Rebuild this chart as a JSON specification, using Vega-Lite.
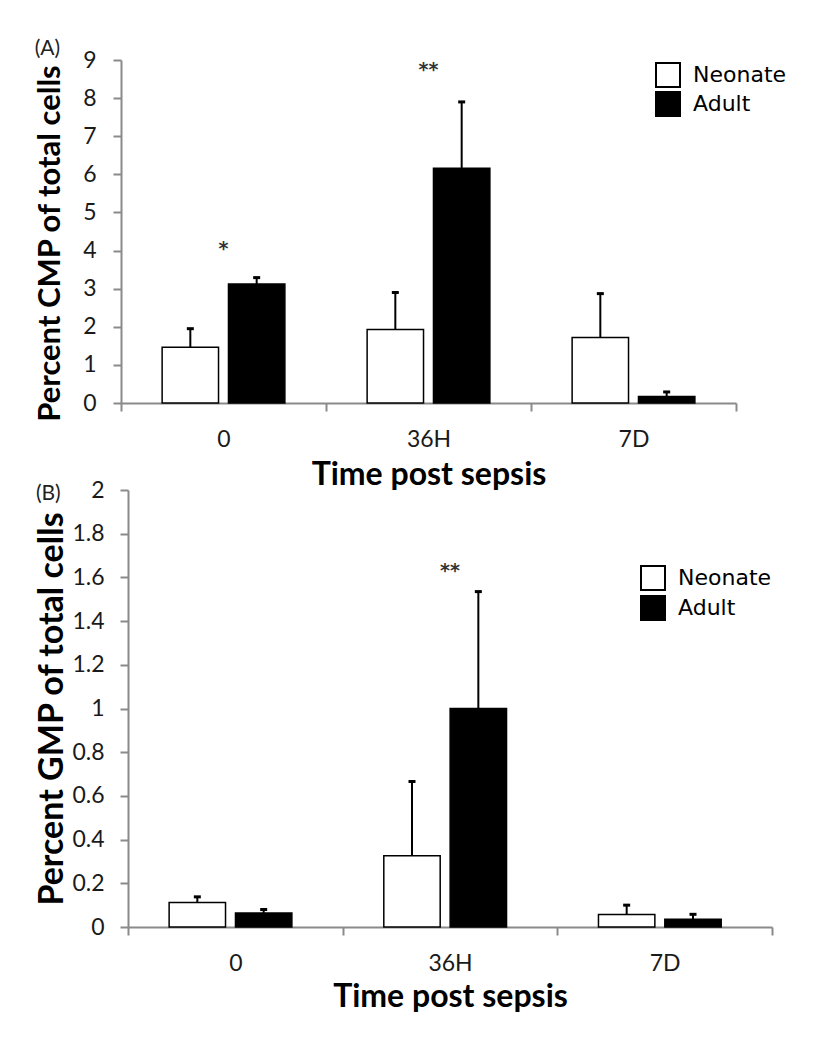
{
  "$schema": "https://vega.github.io/schema/vega-lite/v6.json",
  "background": "white",
  "padding": {"left": 34, "top": 38, "right": 10, "bottom": 10},
  "spacing": -11,
  "columns": 1,
  "datasets": {
    "cmp": [
      {"time": "0", "group": "Neonate", "value": 1.46, "upper": 1.95},
      {"time": "0", "group": "Adult", "value": 3.12, "upper": 3.29},
      {"time": "36H", "group": "Neonate", "value": 1.93, "upper": 2.9},
      {"time": "36H", "group": "Adult", "value": 6.16, "upper": 7.9},
      {"time": "7D", "group": "Neonate", "value": 1.72, "upper": 2.87},
      {"time": "7D", "group": "Adult", "value": 0.17, "upper": 0.29}
    ],
    "gmp": [
      {"time": "0", "group": "Neonate", "value": 0.112, "upper": 0.138},
      {"time": "0", "group": "Adult", "value": 0.064, "upper": 0.08},
      {"time": "36H", "group": "Neonate", "value": 0.326, "upper": 0.666},
      {"time": "36H", "group": "Adult", "value": 1.0, "upper": 1.535},
      {"time": "7D", "group": "Neonate", "value": 0.057, "upper": 0.1},
      {"time": "7D", "group": "Adult", "value": 0.035, "upper": 0.058}
    ],
    "starsA": [
      {"time": "0", "y": 4.1, "label": "*"},
      {"time": "36H", "y": 8.8, "label": "**"}
    ],
    "starsB": [
      {"time": "36H", "y": 1.64, "label": "**"}
    ]
  },
  "config": {
    "view": {"stroke": null},
    "axis": {
      "domainColor": "#8a8a8a", "domainWidth": 2,
      "tickColor": "#8a8a8a", "tickWidth": 2, "tickSize": 8,
      "labelFont": "Lato", "labelFontSize": 23, "labelColor": "#1a1a1a", "labelOverlap": false,
      "titleFont": "Lato", "titleFontWeight": "bold", "titleFontSize": 32, "titleColor": "black",
      "grid": false
    },
    "title": {"font": "Lato", "fontSize": 21, "fontWeight": "normal", "color": "#222", "anchor": "start", "frame": "bounds"}
  },
  "resolve": {"scale": {"fill": "independent"}, "legend": {"fill": "independent"}},
  "concat": [
    {
      "width": 615, "height": 343,
      "title": {"text": "(A)", "offset": 0, "dy": 10},
      "data": {"name": "cmp"},
      "layer": [
        {
          "mark": {"type": "bar", "stroke": "black", "strokeWidth": 1.5},
          "encoding": {
            "x": {"field": "time", "type": "nominal", "sort": ["0", "36H", "7D"],
                  "scale": {"paddingInner": 0, "paddingOuter": 0, "range": [-7, 608]},
                  "axis": {"title": "Time post sepsis", "labelAngle": 0, "tickBand": "extent", "labelPadding": 17, "titlePadding": 8}},
            "xOffset": {"field": "group", "type": "nominal", "sort": ["Neonate", "Adult"],
                        "scale": {"paddingInner": 0.15, "paddingOuter": 0.62}},
            "y": {"field": "value", "type": "quantitative", "scale": {"domain": [0, 9]},
                  "axis": {"title": "Percent CMP of total cells", "values": [0, 1, 2, 3, 4, 5, 6, 7, 8, 9], "labelOverlap": false, "offset": 7, "labelPadding": 17, "titlePadding": 16, "titleFontSize": 31, "titleY": 183}},
            "fill": {"field": "group", "type": "nominal", "sort": ["Neonate", "Adult"],
                     "scale": {"domain": ["Neonate", "Adult"], "range": ["white", "black"]},
                     "legend": {"title": null, "orient": "none", "legendX": 527, "legendY": 2,
                                "symbolType": "square", "symbolSize": 576, "symbolStrokeColor": "black", "symbolStrokeWidth": 2,
                                "labelFont": "DejaVu Sans", "labelFontSize": 22, "labelColor": "black", "labelOffset": 12, "rowPadding": -7}}
          }
        },
        {
          "mark": {"type": "rule", "color": "black", "strokeWidth": 2},
          "encoding": {
            "x": {"field": "time", "type": "nominal", "sort": ["0", "36H", "7D"]},
            "xOffset": {"field": "group", "type": "nominal", "sort": ["Neonate", "Adult"]},
            "y": {"field": "value", "type": "quantitative",
                  "axis": {"title": "Percent CMP of total cells", "values": [0, 1, 2, 3, 4, 5, 6, 7, 8, 9], "labelOverlap": false, "offset": 7, "labelPadding": 17, "titlePadding": 16, "titleFontSize": 31, "titleY": 183}},
            "y2": {"field": "upper"}
          }
        },
        {
          "mark": {"type": "tick", "color": "black", "thickness": 3, "size": 7, "opacity": 1},
          "encoding": {
            "x": {"field": "time", "type": "nominal", "sort": ["0", "36H", "7D"]},
            "xOffset": {"field": "group", "type": "nominal", "sort": ["Neonate", "Adult"]},
            "y": {"field": "upper", "type": "quantitative",
                  "axis": {"title": "Percent CMP of total cells", "values": [0, 1, 2, 3, 4, 5, 6, 7, 8, 9], "labelOverlap": false, "offset": 7, "labelPadding": 17, "titlePadding": 16, "titleFontSize": 31, "titleY": 183}}
          }
        },
        {
          "data": {"name": "starsA"},
          "mark": {"type": "text", "font": "DejaVu Sans", "fontSize": 19, "fontWeight": "bold", "color": "#333", "baseline": "middle", "dy": 2},
          "encoding": {
            "x": {"field": "time", "type": "nominal", "sort": ["0", "36H", "7D"]},
            "y": {"field": "y", "type": "quantitative",
                  "axis": {"title": "Percent CMP of total cells", "values": [0, 1, 2, 3, 4, 5, 6, 7, 8, 9], "labelOverlap": false, "offset": 7, "labelPadding": 17, "titlePadding": 16, "titleFontSize": 31, "titleY": 183}},
            "text": {"field": "label"}
          }
        }
      ]
    },
    {
      "width": 644, "height": 437,
      "title": {"text": "(B)", "offset": 0, "dy": 25},
      "data": {"name": "gmp"},
      "layer": [
        {
          "mark": {"type": "bar", "stroke": "black", "strokeWidth": 1.5},
          "encoding": {
            "x": {"field": "time", "type": "nominal", "sort": ["0", "36H", "7D"],
                  "scale": {"paddingInner": 0, "paddingOuter": 0},
                  "axis": {"title": "Time post sepsis", "labelAngle": 0, "tickBand": "extent", "labelPadding": 17, "titlePadding": 6}},
            "xOffset": {"field": "group", "type": "nominal", "sort": ["Neonate", "Adult"],
                        "scale": {"paddingInner": 0.18, "paddingOuter": 0.6}},
            "y": {"field": "value", "type": "quantitative", "scale": {"domain": [0, 2]},
                  "axis": {"title": "Percent GMP of total cells", "values": [0, 0.2, 0.4, 0.6, 0.8, 1, 1.2, 1.4, 1.6, 1.8, 2], "format": "~g", "labelOverlap": false, "labelPadding": 16, "titlePadding": 2, "titleFontSize": 34}},
            "fill": {"field": "group", "type": "nominal", "sort": ["Neonate", "Adult"],
                     "scale": {"domain": ["Neonate", "Adult"], "range": ["white", "black"]},
                     "legend": {"title": null, "orient": "none", "legendX": 512, "legendY": 75,
                                "symbolType": "square", "symbolSize": 576, "symbolStrokeColor": "black", "symbolStrokeWidth": 2,
                                "labelFont": "DejaVu Sans", "labelFontSize": 22, "labelColor": "black", "labelOffset": 12, "rowPadding": -2}}
          }
        },
        {
          "mark": {"type": "rule", "color": "black", "strokeWidth": 2},
          "encoding": {
            "x": {"field": "time", "type": "nominal", "sort": ["0", "36H", "7D"]},
            "xOffset": {"field": "group", "type": "nominal", "sort": ["Neonate", "Adult"]},
            "y": {"field": "value", "type": "quantitative",
                  "axis": {"title": "Percent GMP of total cells", "values": [0, 0.2, 0.4, 0.6, 0.8, 1, 1.2, 1.4, 1.6, 1.8, 2], "format": "~g", "labelOverlap": false, "labelPadding": 16, "titlePadding": 2, "titleFontSize": 34}},
            "y2": {"field": "upper"}
          }
        },
        {
          "mark": {"type": "tick", "color": "black", "thickness": 3, "size": 7, "opacity": 1},
          "encoding": {
            "x": {"field": "time", "type": "nominal", "sort": ["0", "36H", "7D"]},
            "xOffset": {"field": "group", "type": "nominal", "sort": ["Neonate", "Adult"]},
            "y": {"field": "upper", "type": "quantitative",
                  "axis": {"title": "Percent GMP of total cells", "values": [0, 0.2, 0.4, 0.6, 0.8, 1, 1.2, 1.4, 1.6, 1.8, 2], "format": "~g", "labelOverlap": false, "labelPadding": 16, "titlePadding": 2, "titleFontSize": 34}}
          }
        },
        {
          "data": {"name": "starsB"},
          "mark": {"type": "text", "font": "DejaVu Sans", "fontSize": 19, "fontWeight": "bold", "color": "#333", "baseline": "middle", "dy": 2},
          "encoding": {
            "x": {"field": "time", "type": "nominal", "sort": ["0", "36H", "7D"]},
            "y": {"field": "y", "type": "quantitative",
                  "axis": {"title": "Percent GMP of total cells", "values": [0, 0.2, 0.4, 0.6, 0.8, 1, 1.2, 1.4, 1.6, 1.8, 2], "format": "~g", "labelOverlap": false, "labelPadding": 16, "titlePadding": 2, "titleFontSize": 34}},
            "text": {"field": "label"}
          }
        }
      ]
    }
  ]
}
